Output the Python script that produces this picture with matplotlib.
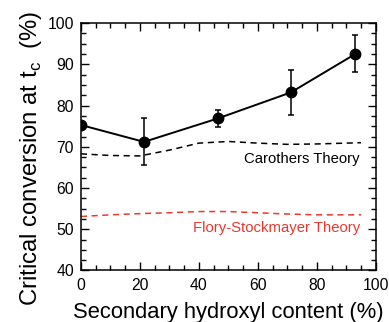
import matplotlib.pyplot as plt
from matplotlib.ticker import MultipleLocator

plt.rcParams['font.family'] = ['Liberation Sans', 'DejaVu Sans']

# 测量数据
x_exp = [0, 21.4, 46.5, 71.2, 93.0]
y_exp = [75.3, 71.2, 76.9, 83.2, 92.5]
err_lo = [0, 5.6, 2.1, 5.4, 4.4]
err_hi = [0, 5.9, 2.1, 5.4, 4.6]

# 理论曲线
x_theory = [0, 10, 20, 30, 40, 50, 60, 70, 80, 95]
y_carothers = [68.3, 67.9, 67.8, 69.2, 70.9, 71.3, 70.9, 70.6, 70.7, 71.0]
y_flory = [53.1, 53.5, 53.8, 54.0, 54.3, 54.3, 54.0, 53.7, 53.5, 53.5]

fig, ax = plt.subplots(figsize=(3.89, 3.22), dpi=100)
fig.subplots_adjust(left=0.208, right=0.966, top=0.928, bottom=0.16)

ax.plot(x_theory, y_carothers, 'k--', lw=1.1, dashes=(4, 3))
ax.plot(x_theory, y_flory, '--', color='#e8392f', lw=1.1, dashes=(4, 3))
ax.errorbar(x_exp, y_exp, yerr=[err_lo, err_hi], fmt='o-', color='black',
            ms=7.5, lw=1.4, elinewidth=1.1, capsize=2.5, capthick=1.1)

ax.text(94.6, 67.0, 'Carothers Theory', ha='right', va='center', fontsize=10.7)
ax.text(94.6, 50.4, 'Flory-Stockmayer Theory', ha='right', va='center',
        fontsize=10.7, color='#e8392f')

ax.set_xlim(0, 100)
ax.set_ylim(40, 100)
ax.xaxis.set_major_locator(MultipleLocator(20))
ax.xaxis.set_minor_locator(MultipleLocator(5))
ax.yaxis.set_major_locator(MultipleLocator(10))
ax.yaxis.set_minor_locator(MultipleLocator(2.5))
ax.tick_params(which='both', direction='in', top=True, right=True, labelsize=11.3)
ax.tick_params(which='major', length=6, width=1)
ax.tick_params(which='minor', length=3.5, width=1)
ax.tick_params(axis='x', which='major', pad=5.5)
ax.tick_params(axis='y', which='major', pad=5)
for s in ax.spines.values():
    s.set_linewidth(1.1)

ax.set_xlabel('Secondary hydroxyl content (%)', fontsize=15.8, labelpad=6.5)
ax.set_ylabel('Critical conversion at t$_\\mathregular{c}$  (%)', fontsize=17.2)
ax.yaxis.set_label_coords(-0.125, 0.455)

plt.savefig('out.png', dpi=100)
